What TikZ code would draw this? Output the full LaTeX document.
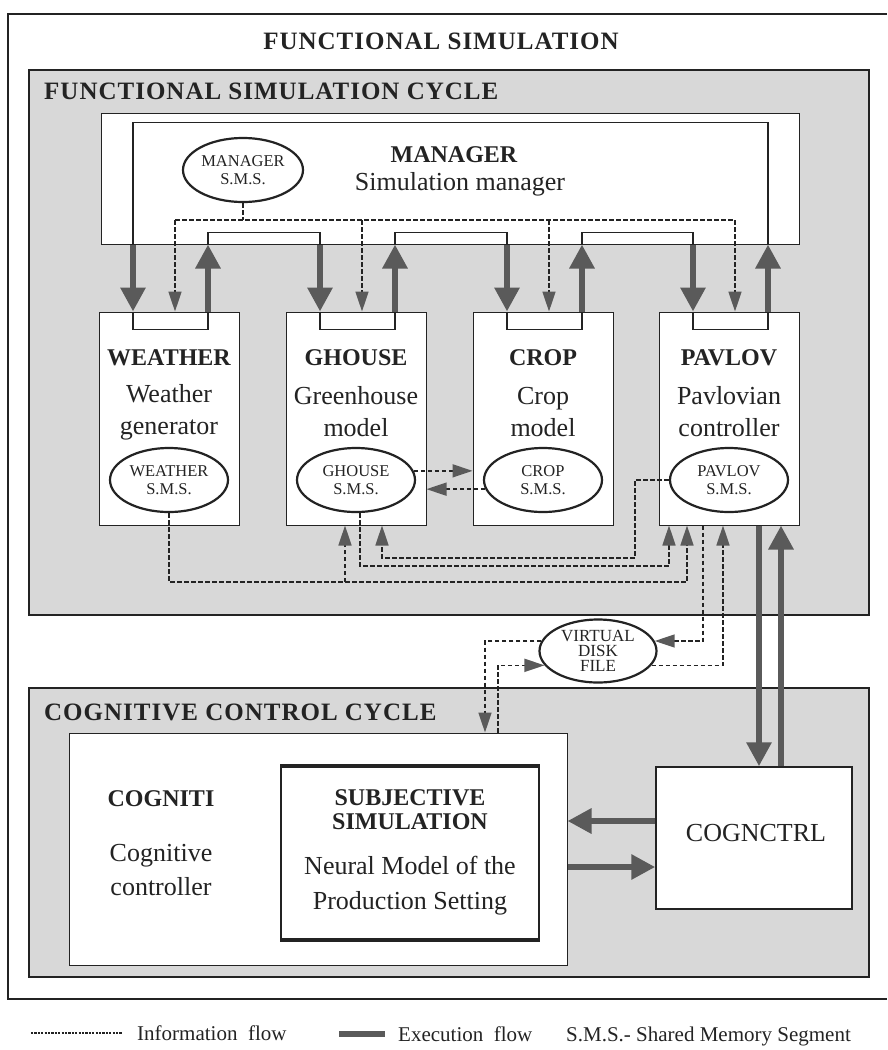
\documentclass[tikz,border=0pt]{standalone}
\usepackage{fontspec}
\setmainfont{Liberation Serif}
\usetikzlibrary{arrows.meta,shapes.geometric}
\definecolor{panelgray}{RGB}{216,216,216}
\definecolor{flowgray}{RGB}{90,90,90}
\definecolor{inkgray}{RGB}{35,35,35}
\tikzset{
  frame/.style={draw=inkgray, line width=1.5pt},
  panel/.style={draw=inkgray, line width=1.8pt, fill=panelgray},
  box/.style={draw=inkgray, line width=1pt, fill=white, inner sep=0pt},
  sms/.style={ellipse, draw=inkgray, line width=2.2pt, fill=white, minimum width=118pt,
    minimum height=64pt, inner sep=0pt, align=center, text=inkgray,
    font=\fontsize{16.5}{18}\selectfont},
  headtxt/.style={inner sep=0pt, text=inkgray, align=center, font=\fontsize{24}{26}\selectfont\bfseries},
  titletxt/.style={inner sep=0pt, text=inkgray, font=\fontsize{25}{27}\selectfont\bfseries\addfontfeature{LetterSpace=4}},
  bodytxt/.style={inner sep=0pt, text=inkgray, align=center, font=\fontsize{26}{32}\selectfont},
  legtxt/.style={inner sep=0pt, text=inkgray, font=\fontsize{21}{24}\selectfont},
  exec/.style={draw=flowgray, line width=6.5pt, -{Triangle[length=24pt,width=24pt]}},
  info/.style={draw=inkgray, line width=1.7pt, dash pattern=on 4.5pt off 2.5pt,
    -{Triangle[length=20pt,width=13pt,color=flowgray]}},
  link/.style={draw=inkgray, line width=1.1pt},
}
\begin{document}
\begin{tikzpicture}[x=1pt,y=-1pt]
\useasboundingbox (0,0) rectangle (887,1050);
\draw[frame] (887,14) -- (8,14) -- (8,999) -- (887,999);
\node[titletxt] (title) at (441,41) {FUNCTIONAL SIMULATION};

%panels
\draw[panel] (29,70) rectangle (869,615);
\draw[panel] (29,688) rectangle (869,977);
\node[titletxt, anchor=west] (fsc) at (44,91) {FUNCTIONAL SIMULATION CYCLE};
\node[titletxt, anchor=west] (ccc) at (44,712) {COGNITIVE CONTROL CYCLE};

%manager
\node[box, minimum width=698pt, minimum height=131pt] (mgr) at (450,178.5) {};
\node[headtxt] (mgr-t) at (454,155) {MANAGER};
\node[bodytxt] (mgr-s) at (460,184) {Simulation manager};
\node[sms, minimum width=120pt] (mgr-sms) at (243,170) {MANAGER\\S.M.S.};

%modules
\foreach \m/\x/\name/\desc in {wea/169/WEATHER/Weather\\generator, gho/356/GHOUSE/Greenhouse\\model,
    crp/543/CROP/Crop\\model, pav/729/PAVLOV/Pavlovian\\controller}{
  \node[box, minimum width=140pt, minimum height=213pt] (\m) at (\x,418.5) {};
  \node[headtxt] (\m-t) at (\x,358) {\name};
  \node[bodytxt] (\m-s) at (\x,412) {\desc};
  \node[sms] (\m-sms) at (\x,480) {\name\\S.M.S.};
}

%execution cycle
\draw[info,-] (mgr-sms.south) -- ++(0,17) coordinate (bus);
\draw[info,-] ([xshift=6pt]wea.north |- bus) -- ([xshift=6pt]pav.north |- bus);
\foreach \m in {wea,gho,crp,pav}{
  \draw[link] ([xshift=-36pt]\m.north) -- ++(0,18) -| ([xshift=39pt]\m.north);
  \draw[exec] ([xshift=-36pt]\m.north |- mgr.south) -- ([xshift=-36pt]\m.north);
  \draw[exec] ([xshift=39pt]\m.north) -- ([xshift=39pt]\m.north |- mgr.south);
  \draw[info] ([xshift=6pt]\m.north |- bus) -- ([xshift=6pt]\m.north);
}
\foreach \a/\b in {wea/gho,gho/crp,crp/pav}
  \draw[link] ([xshift=39pt]\a.north |- mgr.south) -- ++(0,-12) -| ([xshift=-36pt]\b.north |- mgr.south);
\draw[link] ([xshift=39pt]pav.north |- mgr.south) |- ([yshift=-10pt]mgr.north) -| ([xshift=-36pt]wea.north |- mgr.south);

%shared memory traffic
\coordinate (busA) at (0,582);
\coordinate (busB) at (0,566);
\coordinate (busC) at (635,558);
\draw[info] (wea-sms.south) |- ([xshift=-42pt]pav.south |- busA) -- ([xshift=-42pt]pav.south);
\draw[info] ([xshift=-11pt]gho.south |- busA) -- ([xshift=-11pt]gho.south);
\draw[info] ([xshift=4pt]gho-sms.south) |- ([xshift=-60pt]pav.south |- busB) -- ([xshift=-60pt]pav.south);
\draw[info] (pav-sms.west) -| (busC) -| ([xshift=26pt]gho.south);
\draw[info] (gho-sms.9) -- (gho-sms.9 -| crp.west);
\draw[info] (crp-sms.189) -- (crp-sms.189 -| gho.east);

%cognitive part
\node[sms, minimum width=117pt, minimum height=63pt, font=\fontsize{17}{15}\selectfont] (vdf) at (598,651) {VIRTUAL\\DISK\\FILE};
\node[box, minimum width=498pt, minimum height=232pt] (cog) at (318,849) {};
\node[headtxt] (cog-t) at (161,799) {COGNITI};
\node[bodytxt, font=\fontsize{26}{34}\selectfont] (cog-s) at (161,870) {Cognitive\\controller};
\node[box, line width=2pt, minimum width=258pt, minimum height=172pt] (subj) at (410,853) {};
\draw[draw=inkgray, line width=4.5pt] (subj.north west) -- (subj.north east);
\draw[draw=inkgray, line width=4.5pt] (subj.south west) -- (subj.south east);
\node[headtxt, font=\fontsize{24}{24}\selectfont\bfseries] (subj-t) at (410,810) {SUBJECTIVE\\SIMULATION};
\node[bodytxt, font=\fontsize{26}{35}\selectfont] (subj-s) at (410,886) {Neural Model of the\\Production Setting};
\node[box, line width=1.5pt, minimum width=196pt, minimum height=142pt] (ctl) at (754,838) {};
\node[bodytxt] (ctl-t) at (756,833) {COGNCTRL};

\draw[exec] ([xshift=30pt]pav.south) -- ([xshift=30pt]pav.south |- ctl.north);
\draw[exec] ([xshift=52pt]pav.south |- ctl.north) -- ([xshift=52pt]pav.south);
\draw[exec] ([yshift=17pt]ctl.west) -- ([yshift=17pt]ctl.west -| cog.east);
\draw[exec] ([yshift=-29pt]ctl.west -| cog.east) -- ([yshift=-29pt]ctl.west);

\draw[info] ([xshift=-26pt]pav.south) |- (vdf.10);
\draw[info] (vdf.-15) -| ([xshift=-6pt]pav.south);
\draw[info] (vdf.170) -| ([xshift=167pt]cog.north);
\draw[info] ([xshift=180pt]cog.north) |- (vdf.195);

%legend
\draw[draw=inkgray, line width=1.5pt, dash pattern=on 2.2pt off 1.2pt] (31,1033) -- (122,1033);
\node[legtxt, anchor=west] (leg-info) at (137,1033) {Information\ \ flow};
\draw[flowgray, line width=6pt] (339,1034) -- (385,1034);
\node[legtxt, anchor=west] (leg-exec) at (398,1034) {Execution\ \ flow};
\node[legtxt, anchor=west] (leg-sms) at (566,1036) {S.M.S.- Shared Memory Segment};
\end{tikzpicture}
\end{document}
